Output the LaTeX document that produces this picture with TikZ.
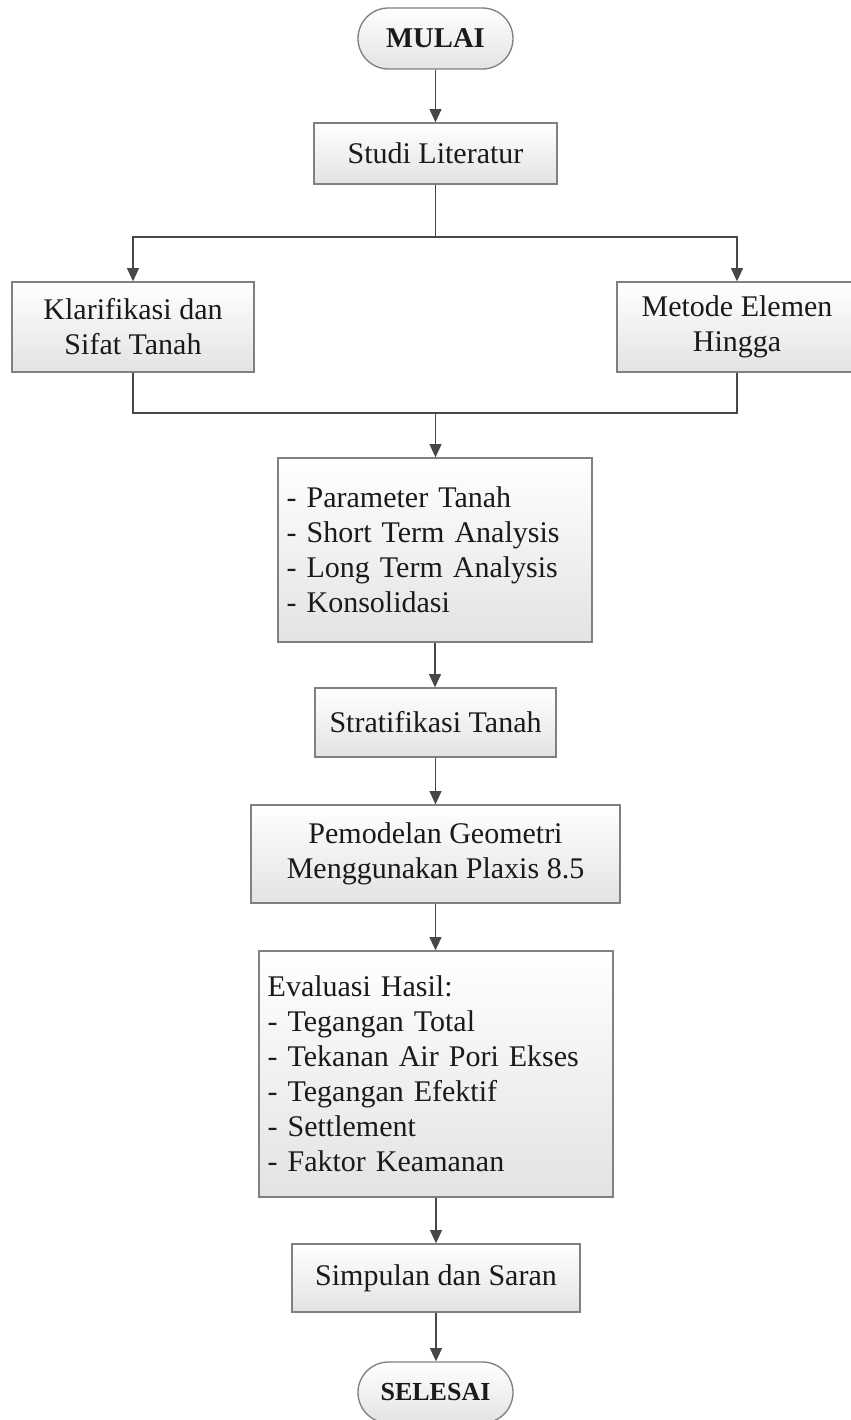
\documentclass[tikz,border=0pt]{standalone}
\usepackage{fontspec}
\setmainfont{Liberation Serif}
\usetikzlibrary{arrows.meta,shapes.misc}
\definecolor{boxline}{HTML}{808080}
\definecolor{arrowline}{HTML}{474747}
\definecolor{txt}{HTML}{1A1A1A}
\tikzset{
  base/.style={draw=boxline, line width=1pt, top color=white, bottom color=black!11,
    text=txt, font=\fontsize{22.5}{26.25}\selectfont, inner sep=0pt},
  procbox/.style={base, rectangle, align=center},
  listbox/.style={base, rectangle, align=left, inner xsep=6.5pt},
  termbox/.style={base, rounded rectangle, minimum width=116.25pt, minimum height=45.75pt},
  flow/.style={draw=arrowline, line width=1.1pt},
  flowarrow/.style={flow, -{Triangle[width=9pt,length=10pt]}}
}
\begin{document}
\begin{tikzpicture}[x=0.75pt,y=-0.75pt]
\useasboundingbox[fill=white] (0,0) rectangle (850,1420);

\node[termbox, font=\fontsize{21.5}{25}\selectfont\bfseries] (mulai) at (435.5,38.5) {MULAI};
\node[procbox, minimum width=182.25pt, minimum height=45.75pt] (studi) at (435.5,153.5) {Studi Literatur};
\node[procbox, minimum width=181.5pt, minimum height=67.5pt] (klar) at (133,327) {Klarifikasi dan\\Sifat Tanah};
\node[procbox, minimum width=180pt, minimum height=67.5pt] (metode) at (737,327) {Metode Elemen\\Hingga};
\node[listbox, minimum width=235.5pt, minimum height=138pt, text width=222.5pt] (param) at (435,550)
  {- Parameter Tanah\\- Short Term Analysis\\- Long Term Analysis\\- Konsolidasi};
\node[procbox, minimum width=180.75pt, minimum height=51.75pt] (strat) at (435.5,722.5) {Stratifikasi Tanah};
\node[procbox, minimum width=276.75pt, minimum height=73.5pt] (pemod) at (435.5,854) {Pemodelan Geometri\\Menggunakan Plaxis 8.5};
\node[listbox, minimum width=265.5pt, minimum height=184.5pt, text width=252.5pt] (eval) at (436,1074)
  {Evaluasi Hasil:\\- Tegangan Total\\- Tekanan Air Pori Ekses\\- Tegangan Efektif\\- Settlement\\- Faktor Keamanan};
\node[procbox, minimum width=216pt, minimum height=51pt] (simp) at (436,1278) {Simpulan dan Saran};
\node[termbox, font=\fontsize{19.5}{23}\selectfont\bfseries] (selesai) at (435.5,1392.5) {SELESAI};

\coordinate (split) at (435.5,237);
\coordinate (join) at (435.5,413);

\draw[flowarrow] (mulai.south) -- (mulai.south |- studi.north);
\draw[flow] (studi.south) -- (split);
\draw[flowarrow] (split) -| (klar.north);
\draw[flowarrow] (split) -| (metode.north);
\draw[flow] (klar.south) |- (join);
\draw[flow] (metode.south) |- (join);
\draw[flowarrow] (join) -- (join |- param.north);
\draw[flowarrow] (param.south) -- (param.south |- strat.north);
\draw[flowarrow] (strat.south) -- (strat.south |- pemod.north);
\draw[flowarrow] (pemod.south) -- (pemod.south |- eval.north);
\draw[flowarrow] (eval.south) -- (eval.south |- simp.north);
\draw[flowarrow] (simp.south) -- (simp.south |- selesai.north);
\end{tikzpicture}
\end{document}
